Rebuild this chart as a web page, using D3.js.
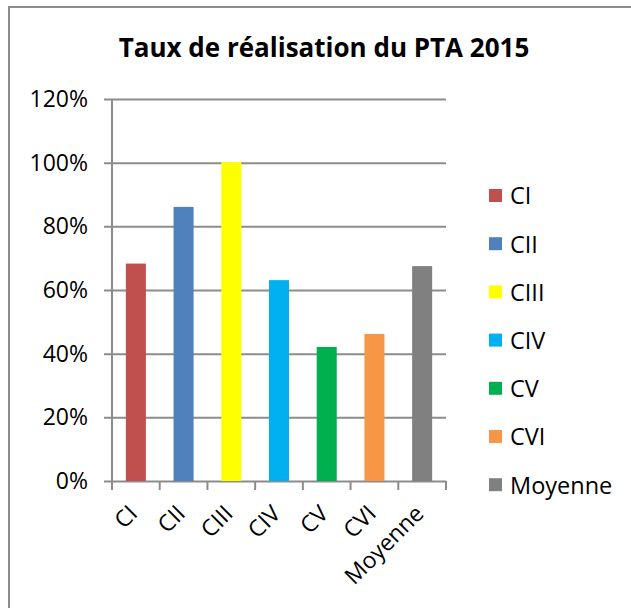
<html>
<head>
  <meta charset="utf-8">
  <style>
  body {
    margin: 0;
    background: #fff;
  }
  text {
    font-family: "Open Sans", sans-serif;
    fill: #000;
  }
  </style>
</head>
<body>
  <div id="elm"></div>
  <script src="https://d3js.org/d3.v7.min.js"></script>
  <script>
  'use strict';

  var title = 'Taux de réalisation du PTA 2015';
  var categories = ['CI', 'CII', 'CIII', 'CIV', 'CV', 'CVI', 'Moyenne'];
  var values = [0.683, 0.861, 1.002, 0.631, 0.421, 0.462, 0.675];
  var colors = ['#C0504D', '#4F81BD', '#FFFF00', '#00B0F0', '#00B050', '#F79646', '#808080'];
  var yTicks = [0, 0.2, 0.4, 0.6, 0.8, 1.0, 1.2];

  var width = 631,
      height = 608;

  var plot = { left: 112, right: 446, top: 99, bottom: 481 };

  var svg = d3.select('#elm').append('svg')
    .attr('width', width).attr('height', height);

  // chart frame, runs off the right and bottom edges
  svg.append('rect')
    .attr('x', 9).attr('y', 7)
    .attr('width', 700).attr('height', 700)
    .attr('fill', '#fff').attr('stroke', '#8c8c8c').attr('stroke-width', 2);

  var x = d3.scaleBand().domain(categories)
    .range([plot.left, plot.right])
    .paddingInner(0.58).paddingOuter(0.29);

  var y = d3.scaleLinear().domain([0, 1.2]).range([plot.bottom, plot.top]);

  // gridlines + y labels
  var yAxis = d3.axisLeft(y).tickValues(yTicks)
    .tickFormat(d3.format('.0%'))
    .tickSize(-(plot.right - plot.left)).tickPadding(24);

  var gy = svg.append('g').attr('transform', 'translate(' + plot.left + ',0)').call(yAxis);
  gy.select('.domain').remove();
  gy.selectAll('line')
    .attr('x1', -8)
    .attr('stroke', '#8c8c8c').attr('stroke-width', 2);
  gy.selectAll('text')
    .attr('font-size', 23).attr('font-family', '"Open Sans", sans-serif');

  // y axis line
  svg.append('line')
    .attr('x1', plot.left).attr('x2', plot.left)
    .attr('y1', plot.top).attr('y2', plot.bottom + 9)
    .attr('stroke', '#8c8c8c').attr('stroke-width', 2);

  // x ticks at category boundaries
  var bounds = categories.map(function(c) { return x(c) - x.step() * x.paddingInner() / 2; });
  bounds.push(plot.right);
  svg.append('g').selectAll('line').data(bounds).enter().append('line')
    .attr('x1', function(d) { return d; }).attr('x2', function(d) { return d; })
    .attr('y1', plot.bottom).attr('y2', plot.bottom + 9)
    .attr('stroke', '#8c8c8c').attr('stroke-width', 2);

  // bars
  svg.append('g').selectAll('rect').data(values).enter().append('rect')
    .attr('x', function(d, i) { return x(categories[i]); })
    .attr('width', x.bandwidth())
    .attr('y', function(d) { return y(d); })
    .attr('height', function(d) { return y(0) - y(d); })
    .attr('fill', function(d, i) { return colors[i]; });

  // x labels, rotated
  svg.append('g').selectAll('text').data(categories).enter().append('text')
    .attr('transform', function(d) {
      return 'translate(' + (x(d) + x.bandwidth() / 2 + 3) + ',' + (plot.bottom + 34) + ') rotate(-45)';
    })
    .attr('text-anchor', 'end')
    .attr('font-size', 23)
    .text(function(d) { return d; });

  // title
  svg.append('text')
    .attr('x', 324).attr('y', 57)
    .attr('text-anchor', 'middle')
    .attr('font-size', 26).attr('font-weight', 'bold')
    .text(title);

  // legend
  var legend = svg.append('g').selectAll('g').data(categories).enter().append('g')
    .attr('transform', function(d, i) { return 'translate(489,' + (196 + i * 48.2) + ')'; });
  legend.append('rect')
    .attr('x', 0).attr('y', -7).attr('width', 13).attr('height', 13)
    .attr('fill', function(d, i) { return colors[i]; });
  legend.append('text')
    .attr('x', 21).attr('dy', '0.36em')
    .attr('font-size', 23.5)
    .text(function(d) { return d; });
  </script>
</body>
</html>
